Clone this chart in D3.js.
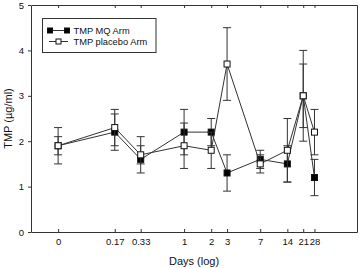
<!DOCTYPE html>
<html>
<head>
<meta charset="utf-8">
<script src="https://cdn.jsdelivr.net/npm/d3@7"></script>
<style>
  body { margin: 0; background: #fff; }
  svg { display: block; font-family: "Liberation Sans", Arial, sans-serif; }
</style>
</head>
<body>
<div id="chart"></div>
<script>
// sampling days (0 is drawn at a small stand-in value on the log axis)
var days = [0, 0.17, 0.33, 1, 2, 3, 7, 14, 21, 28];
var dayLabels = ["0", "0.17", "0.33", "1", "2", "3", "7", "14", "21", "28"];
var zeroDay = 0.04;

var mqMean = [1.9, 2.2, 1.6, 2.2, 2.2, 1.3, 1.6, 1.5, 3.0, 1.2];
var mqLow  = [1.5, 1.8, 1.3, 1.7, 1.9, 0.9, 1.4, 1.1, 2.3, 0.8];
var mqHigh = [2.3, 2.6, 1.9, 2.7, 2.5, 1.7, 1.8, 1.9, 3.7, 1.6];

var plMean = [1.9, 2.3, 1.7, 1.9, 1.8, 3.7, 1.5, 1.8, 3.0, 2.2];
var plLow  = [1.7, 1.9, 1.5, 1.4, 1.4, 2.9, 1.3, 1.1, 2.0, 1.7];
var plHigh = [2.1, 2.7, 2.1, 2.4, 2.2, 4.5, 1.7, 2.5, 4.0, 2.7];

var yTicks = [0, 1, 2, 3, 4, 5];

var width = 359, height = 268;
var margin = {top: 5, right: 2, bottom: 36, left: 31};
var ink = "#333";

var svg = d3.select("#chart").append("svg")
  .attr("width", width)
  .attr("height", height);

var x = d3.scaleLog()
  .domain([0.02, 83])
  .range([margin.left, width - margin.right]);

var y = d3.scaleLinear()
  .domain([0, 5])
  .range([height - margin.bottom, margin.top]);

function xd(d) { return x(d === 0 ? zeroDay : d); }

var tickPos = days.map(function(d) { return d === 0 ? zeroDay : d; });

// axes
var xAxis = d3.axisBottom(x)
  .tickValues(tickPos)
  .tickFormat(function(d, i) { return dayLabels[i]; })
  .tickSizeInner(-3)
  .tickSizeOuter(0)
  .tickPadding(6);

var gx = svg.append("g")
  .attr("transform", "translate(0," + y(0) + ")")
  .call(xAxis);

var gTop = svg.append("g")
  .attr("transform", "translate(0," + y(5) + ")")
  .call(d3.axisTop(x).tickValues(tickPos).tickFormat("").tickSizeInner(-3).tickSizeOuter(0));

var gy = svg.append("g")
  .attr("transform", "translate(" + margin.left + ",0)")
  .call(d3.axisLeft(y).tickValues(yTicks).tickFormat(d3.format("d")).tickSizeInner(3).tickSizeOuter(0).tickPadding(4));

var gRight = svg.append("g")
  .attr("transform", "translate(" + (width - margin.right) + ",0)")
  .call(d3.axisRight(y).tickValues([]).tickSizeOuter(0));

[gx, gTop, gy, gRight].forEach(function(g) {
  g.selectAll("path, line").attr("stroke", ink).attr("stroke-width", 1);
  g.selectAll("text").attr("fill", "#111").style("font-size", "9.5px")
    .style("font-family", "'Liberation Sans', Arial, sans-serif");
});

// axis titles
svg.append("text")
  .attr("x", (margin.left + width - margin.right) / 2)
  .attr("y", 265)
  .attr("text-anchor", "middle")
  .style("font-size", "11px")
  .attr("fill", "#111")
  .text("Days (log)");

svg.append("text")
  .attr("transform", "translate(12," + ((y(0) + y(5)) / 2) + ") rotate(-90)")
  .attr("text-anchor", "middle")
  .style("font-size", "11px")
  .attr("fill", "#111")
  .text("TMP (µg/ml)");

// series
var series = [
  {mean: mqMean, low: mqLow, high: mqHigh, fill: "#000"},
  {mean: plMean, low: plLow, high: plHigh, fill: "#fff"}
];

var line = d3.line()
  .x(function(d) { return xd(d.day); })
  .y(function(d) { return y(d.v); });

var cap = 4, sq = 6;

series.forEach(function(s) {
  var pts = days.map(function(d, i) {
    return {day: d, v: s.mean[i], lo: s.low[i], hi: s.high[i]};
  });

  var g = svg.append("g");

  var eb = g.selectAll(".eb").data(pts).enter().append("g");
  eb.append("line")
    .attr("x1", function(d) { return xd(d.day); })
    .attr("x2", function(d) { return xd(d.day); })
    .attr("y1", function(d) { return y(d.lo); })
    .attr("y2", function(d) { return y(d.hi); })
    .attr("stroke", ink);
  eb.append("line")
    .attr("x1", function(d) { return xd(d.day) - cap; })
    .attr("x2", function(d) { return xd(d.day) + cap; })
    .attr("y1", function(d) { return y(d.lo); })
    .attr("y2", function(d) { return y(d.lo); })
    .attr("stroke", ink);
  eb.append("line")
    .attr("x1", function(d) { return xd(d.day) - cap; })
    .attr("x2", function(d) { return xd(d.day) + cap; })
    .attr("y1", function(d) { return y(d.hi); })
    .attr("y2", function(d) { return y(d.hi); })
    .attr("stroke", ink);

  g.append("path")
    .datum(pts)
    .attr("d", line)
    .attr("fill", "none")
    .attr("stroke", ink)
    .attr("stroke-width", 1);

  g.selectAll(".pt").data(pts).enter().append("rect")
    .attr("x", function(d) { return xd(d.day) - sq / 2; })
    .attr("y", function(d) { return y(d.v) - sq / 2; })
    .attr("width", sq)
    .attr("height", sq)
    .attr("fill", s.fill)
    .attr("stroke", "#111")
    .attr("stroke-width", 1);
});

// legend
var lg = svg.append("g");
lg.append("rect")
  .attr("x", 42.5).attr("y", 18.5)
  .attr("width", 113.5).attr("height", 34)
  .attr("fill", "#fff")
  .attr("stroke", ink);

var legendItems = [
  {label: "TMP MQ Arm", fill: "#000", ends: true},
  {label: "TMP placebo Arm", fill: "#fff", ends: false}
];

legendItems.forEach(function(it, i) {
  var ly = 30.5 + i * 11;
  lg.append("line")
    .attr("x1", 49).attr("x2", 68)
    .attr("y1", ly).attr("y2", ly)
    .attr("stroke", ink);
  var xs = it.ends ? [50, 67] : [58.5];
  xs.forEach(function(px) {
    lg.append("rect")
      .attr("x", px - 2.5).attr("y", ly - 2.5)
      .attr("width", 5).attr("height", 5)
      .attr("fill", it.fill)
      .attr("stroke", "#111");
  });
  lg.append("text")
    .attr("x", 73.5).attr("y", ly + 3.4)
    .style("font-size", "9.3px")
    .attr("fill", "#111")
    .text(it.label);
});
</script>
</body>
</html>
